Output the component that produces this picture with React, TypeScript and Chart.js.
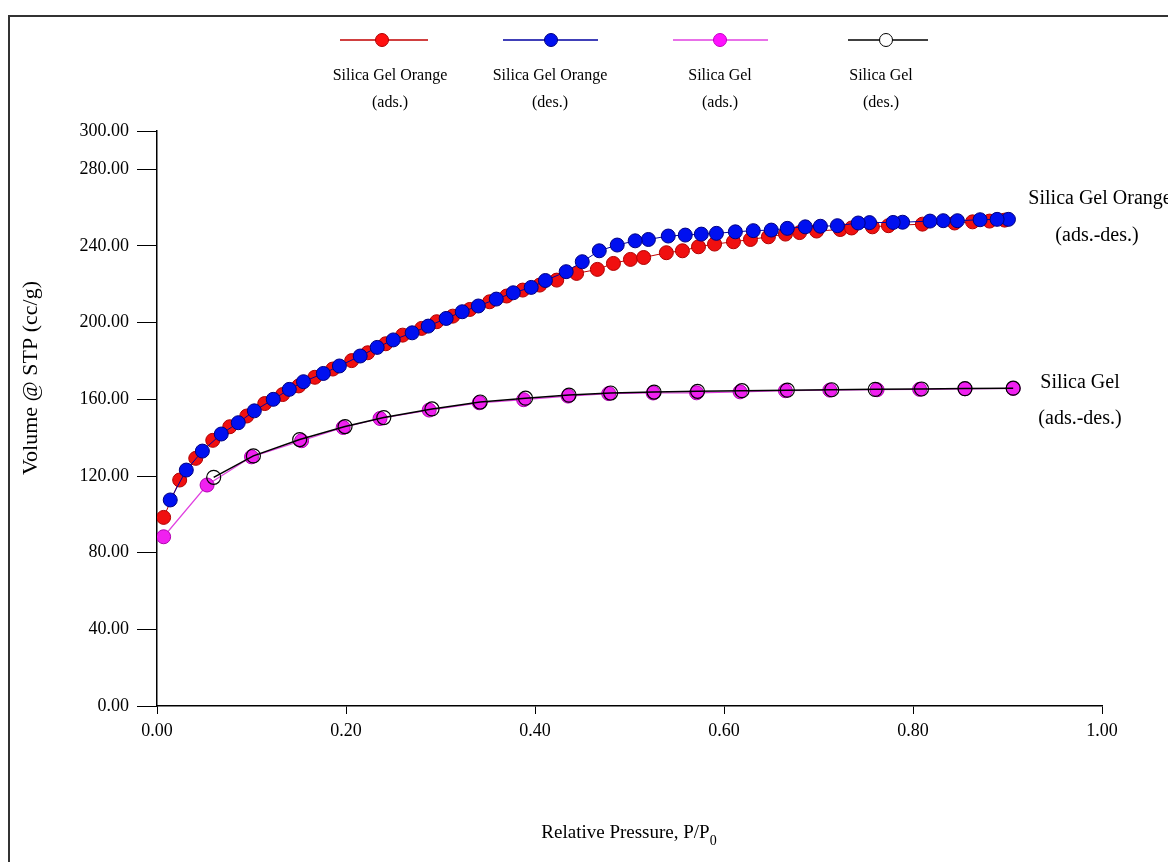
import React, { useEffect, useRef } from "react";
import { Chart, registerables } from "chart.js";

Chart.register(...registerables);

const CW = 1168;
const CH = 862;

// Silica Gel Orange — adsorption (red)
const orangeAdsP = [0.007, 0.024, 0.041, 0.059, 0.077, 0.095, 0.114, 0.133, 0.150, 0.167, 0.186, 0.206, 0.223, 0.242, 0.260, 0.280, 0.296, 0.313, 0.331, 0.352, 0.370, 0.387, 0.405, 0.423, 0.444, 0.466, 0.483, 0.501, 0.515, 0.539, 0.556, 0.573, 0.590, 0.610, 0.628, 0.647, 0.665, 0.680, 0.698, 0.723, 0.735, 0.757, 0.774, 0.810, 0.844, 0.863, 0.881, 0.897];
const orangeAdsV = [98.4, 117.9, 129.2, 138.6, 145.7, 151.3, 157.8, 162.5, 167.0, 171.5, 175.8, 180.2, 184.3, 189.0, 193.5, 197.0, 200.5, 203.4, 206.9, 210.9, 213.9, 217.0, 219.6, 222.2, 225.7, 227.8, 230.9, 233.0, 234.0, 236.5, 237.5, 239.6, 241.0, 242.2, 243.4, 244.8, 246.2, 247.0, 247.8, 248.6, 249.4, 250.0, 250.6, 251.4, 252.0, 252.6, 253.0, 253.5];

// Silica Gel Orange — desorption (blue)
const orangeDesP = [0.901, 0.889, 0.871, 0.847, 0.832, 0.818, 0.789, 0.779, 0.754, 0.742, 0.720, 0.702, 0.686, 0.667, 0.650, 0.631, 0.612, 0.592, 0.576, 0.559, 0.541, 0.520, 0.506, 0.487, 0.468, 0.450, 0.433, 0.411, 0.396, 0.377, 0.359, 0.340, 0.323, 0.306, 0.287, 0.270, 0.250, 0.233, 0.215, 0.193, 0.176, 0.155, 0.140, 0.123, 0.103, 0.086, 0.068, 0.048, 0.031, 0.014];
const orangeDesV = [253.9, 253.9, 253.7, 253.2, 253.2, 253.0, 252.4, 252.3, 252.2, 252.0, 250.6, 250.3, 250.0, 249.2, 248.3, 248.0, 247.4, 246.6, 246.2, 245.7, 245.2, 243.4, 242.7, 240.5, 237.5, 231.8, 226.6, 222.0, 218.4, 215.6, 212.3, 208.7, 205.7, 202.2, 198.2, 194.7, 191.0, 187.1, 182.6, 177.4, 173.5, 169.2, 165.2, 160.0, 154.0, 147.8, 141.9, 133.0, 123.1, 107.5];

// Silica Gel — adsorption (magenta)
const gelAdsP = [0.007, 0.053, 0.100, 0.153, 0.197, 0.236, 0.288, 0.341, 0.388, 0.435, 0.478, 0.525, 0.571, 0.617, 0.665, 0.712, 0.762, 0.807, 0.855, 0.906];
const gelAdsV = [88.3, 115.3, 130.0, 138.4, 145.3, 150.0, 154.4, 158.2, 159.8, 161.7, 163.0, 163.3, 163.4, 163.9, 164.5, 164.8, 165.0, 165.2, 165.5, 165.7];

// Silica Gel — desorption (black, open)
const gelDesP = [0.906, 0.855, 0.809, 0.760, 0.714, 0.667, 0.619, 0.572, 0.526, 0.480, 0.436, 0.390, 0.342, 0.291, 0.240, 0.199, 0.151, 0.102, 0.060];
const gelDesV = [165.8, 165.6, 165.4, 165.2, 165.0, 164.8, 164.5, 164.2, 163.8, 163.3, 162.2, 160.6, 158.6, 155.0, 150.5, 145.8, 139.0, 130.5, 119.3];

const yTickValues = [0, 40, 80, 120, 160, 200, 240, 280, 300];
const xTickValues = [0, 0.2, 0.4, 0.6, 0.8, 1.0];

const legendLine1 = ["Silica Gel Orange", "Silica Gel Orange", "Silica Gel", "Silica Gel"];
const legendLine2 = ["(ads.)", "(des.)", "(ads.)", "(des.)"];
const sideLabels = [
  ["Silica Gel Orange", "(ads.-des.)"],
  ["Silica Gel", "(ads.-des.)"],
];
const yTitle = "Volume @ STP (cc/g)";
const xTitleMain = "Relative Pressure, P/P";
const xTitleSub = "0";

const SERIF = "'Liberation Serif', 'Times New Roman', serif";

const toPts = (p: number[], v: number[]) => p.map((x, i) => ({ x, y: v[i] }));

const decorPlugin = {
  id: "decor",
  afterDraw(chart: any) {
    const ctx = chart.ctx as CanvasRenderingContext2D;
    ctx.save();
    // frame
    ctx.strokeStyle = "#333";
    ctx.lineWidth = 2;
    ctx.strokeRect(9, 16, 1300, 1000);

    // legend
    const items = [
      { l0: 340, l1: 428, dot: 382, tx: 390, line: "#c00000", fill: "#ff1010", border: "#b00000", open: false },
      { l0: 503, l1: 598, dot: 551, tx: 550, line: "#0000a0", fill: "#0010f0", border: "#000080", open: false },
      { l0: 673, l1: 768, dot: 720, tx: 720, line: "#e040e0", fill: "#ff10ff", border: "#c000c0", open: false },
      { l0: 848, l1: 928, dot: 886, tx: 881, line: "#000", fill: "rgba(0,0,0,0)", border: "#000", open: true },
    ];
    items.forEach((it, i) => {
      ctx.beginPath();
      ctx.strokeStyle = it.line;
      ctx.lineWidth = 1.5;
      ctx.moveTo(it.l0, 40);
      ctx.lineTo(it.l1, 40);
      ctx.stroke();
      ctx.beginPath();
      ctx.arc(it.dot, 40, 6.5, 0, Math.PI * 2);
      ctx.fillStyle = it.open ? "#fff" : it.fill;
      ctx.fill();
      ctx.lineWidth = 1;
      ctx.strokeStyle = it.border;
      ctx.stroke();
      ctx.fillStyle = "#000";
      ctx.font = `16px ${SERIF}`;
      ctx.textAlign = "center";
      ctx.textBaseline = "middle";
      ctx.fillText(legendLine1[i], it.tx, 76);
      ctx.fillText(legendLine2[i], it.tx, 103);
    });

    // side labels
    ctx.font = `20px ${SERIF}`;
    ctx.textAlign = "center";
    ctx.textBaseline = "middle";
    ctx.fillText(sideLabels[0][0], 1100, 199);
    ctx.fillText(sideLabels[0][1], 1097, 236);
    ctx.fillText(sideLabels[1][0], 1080, 383);
    ctx.fillText(sideLabels[1][1], 1080, 419);

    // y title
    ctx.save();
    ctx.translate(31, 378);
    ctx.rotate(-Math.PI / 2);
    ctx.font = `22px ${SERIF}`;
    ctx.textAlign = "center";
    ctx.textBaseline = "middle";
    ctx.fillText(yTitle, 0, 0);
    ctx.restore();

    // x title with subscript
    ctx.font = `19px ${SERIF}`;
    const wMain = ctx.measureText(xTitleMain).width;
    ctx.font = `14px ${SERIF}`;
    const wSub = ctx.measureText(xTitleSub).width;
    const start = 629 - (wMain + wSub) / 2;
    ctx.textAlign = "left";
    ctx.textBaseline = "alphabetic";
    ctx.font = `19px ${SERIF}`;
    ctx.fillText(xTitleMain, start, 838);
    ctx.font = `14px ${SERIF}`;
    ctx.fillText(xTitleSub, start + wMain, 845);
    ctx.restore();
  },
};

export default function App() {
  const ref = useRef<HTMLCanvasElement | null>(null);

  useEffect(() => {
    if (!ref.current) return;
    const chart = new Chart(ref.current, {
      type: "line",
      data: {
        datasets: [
          {
            label: "Silica Gel (des.)",
            data: toPts(gelDesP, gelDesV),
            borderColor: "#000",
            borderWidth: 1.5,
            pointRadius: 7,
            pointBorderWidth: 1.2,
            pointBorderColor: "#000",
            pointBackgroundColor: "rgba(0,0,0,0)",
            tension: 0,
            order: 0,
          },
          {
            label: "Silica Gel (ads.)",
            data: toPts(gelAdsP, gelAdsV),
            borderColor: "#e040e0",
            borderWidth: 1.2,
            pointRadius: 7,
            pointBorderWidth: 1,
            pointBorderColor: "#b000b0",
            pointBackgroundColor: "#f020f0",
            tension: 0,
            order: 1,
          },
          {
            label: "Silica Gel Orange (des.)",
            data: toPts(orangeDesP, orangeDesV),
            borderColor: "#0000a0",
            borderWidth: 1,
            pointRadius: 7,
            pointBorderWidth: 1,
            pointBorderColor: "#000080",
            pointBackgroundColor: "#0010f0",
            tension: 0,
            order: 2,
          },
          {
            label: "Silica Gel Orange (ads.)",
            data: toPts(orangeAdsP, orangeAdsV),
            borderColor: "#c00000",
            borderWidth: 1,
            pointRadius: 7,
            pointBorderWidth: 1,
            pointBorderColor: "#b00000",
            pointBackgroundColor: "#f01010",
            tension: 0,
            order: 3,
          },
        ],
      },
      options: {
        responsive: false,
        animation: false,
        devicePixelRatio: 1,
        layout: { padding: { left: 0, top: 131, right: 66, bottom: 116 } },
        plugins: { legend: { display: false }, tooltip: { enabled: false } },
        scales: {
          x: {
            type: "linear",
            min: 0,
            max: 1,
            afterBuildTicks: (s: any) => {
              s.ticks = xTickValues.map((v) => ({ value: v }));
            },
            afterFit: (s: any) => {
              s.height = 40;
            },
            ticks: {
              callback: (v: any) => Number(v).toFixed(2),
              font: { family: SERIF, size: 18 },
              color: "#000",
              padding: 6,
              maxRotation: 0,
              autoSkip: false,
            },
            grid: { drawOnChartArea: false, drawTicks: true, tickLength: 8, color: "#000", lineWidth: 1 },
            border: { display: true, color: "#000", width: 1.5 },
          },
          y: {
            type: "linear",
            min: 0,
            max: 300,
            afterBuildTicks: (s: any) => {
              s.ticks = yTickValues.map((v) => ({ value: v }));
            },
            afterFit: (s: any) => {
              s.width = 157;
            },
            ticks: {
              callback: (v: any) => Number(v).toFixed(2),
              font: { family: SERIF, size: 18 },
              color: "#000",
              padding: 8,
              autoSkip: false,
            },
            grid: { drawOnChartArea: false, drawTicks: true, tickLength: 20, color: "#000", lineWidth: 1 },
            border: { display: true, color: "#000", width: 1.5 },
          },
        },
      },
      plugins: [decorPlugin],
    } as any);
    return () => chart.destroy();
  }, []);

  return (
    <div style={{ position: "fixed", left: 0, top: 0, width: CW, height: CH, background: "#fff" }}>
      <canvas ref={ref} width={CW} height={CH} style={{ display: "block" }} />
    </div>
  );
}
